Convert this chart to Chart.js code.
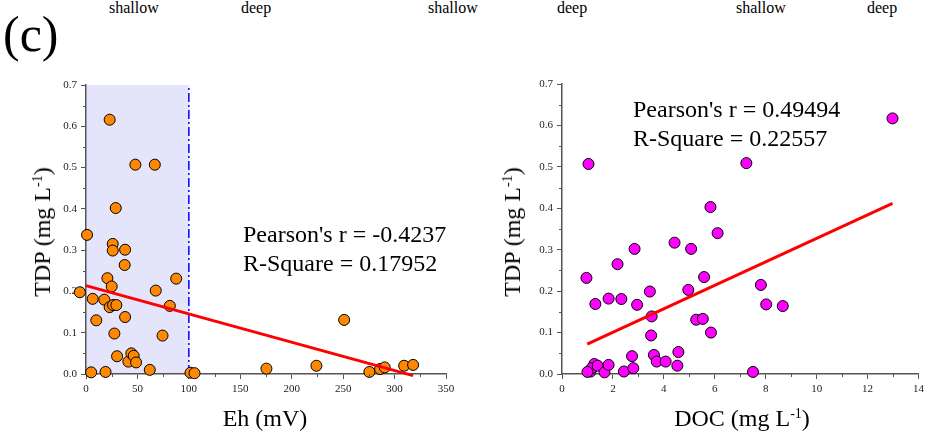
<!DOCTYPE html>
<html>
<head>
<meta charset="utf-8">
<script src="https://cdn.jsdelivr.net/npm/chart.js@4.4.1/dist/chart.umd.min.js"></script>
<style>
  html, body { margin: 0; padding: 0; background: #fff; }
  body { width: 928px; height: 433px; position: relative; overflow: hidden;
         font-family: "Liberation Serif", "Times New Roman", serif; color: #000; }
  canvas { position: absolute; top: 0; }
  .t { position: absolute; white-space: nowrap; line-height: 1; }
  .top { font-size: 16px; top: 0px; }
  .panel { font-size: 50px; left: 3px; top: 9px; }
  .ytitle { font-size: 24px; transform: translate(-50%, -50%) rotate(-90deg); }
  .xtitle { font-size: 24px; transform: translate(-50%, -50%); }
  .stats { position: absolute; font-size: 24px; line-height: 29px; white-space: nowrap; }
  .sup { font-size: 14px; position: relative; top: -8px; }
</style>
</head>
<body>
<!-- header strip left over from the panels above -->
<div class="t top" style="left:109px">shallow</div>
<div class="t top" style="left:241px">deep</div>
<div class="t top" style="left:428px">shallow</div>
<div class="t top" style="left:557px">deep</div>
<div class="t top" style="left:736px">shallow</div>
<div class="t top" style="left:867px">deep</div>
<div class="t panel">(c)</div>

<canvas id="ehChart" width="470" height="433" style="left:0"></canvas>
<canvas id="docChart" width="458" height="433" style="left:470px"></canvas>

<div class="t ytitle" style="left:42px;top:232px">TDP (mg L<span class="sup">-1</span>)</div>
<div class="t ytitle" style="left:512px;top:232px">TDP (mg L<span class="sup">-1</span>)</div>
<div class="t xtitle" style="left:265px;top:418px">Eh (mV)</div>
<div class="t xtitle" style="left:742px;top:418px">DOC (mg L<span class="sup">-1</span>)</div>

<div class="stats" style="left:243px;top:220px">Pearson's r = -0.4237<br>R-Square = 0.17952</div>
<div class="stats" style="left:633px;top:95px">Pearson's r = 0.49494<br>R-Square = 0.22557</div>

<script>
// Eh (mV) vs TDP (mg/L)
const EH_X = [1, -6, 5, 6.5, 10, 19, 17.8, 20.8, 23, 25, 26, 26, 23, 26.3, 29.5, 27.6, 28.9, 30.2,
  38, 37.6, 38, 41.2, 44.1, 46.4, 48.7, 48, 62, 66.9, 67.8, 74.4, 81.5, 87.7, 101.6, 105.5,
  175.4, 224, 251, 275.5, 285.9, 290.4, 309.3, 318];
const EH_TDP = [0.337, 0.198, 0.004, 0.182, 0.130, 0.005, 0.180, 0.232, 0.616, 0.212, 0.315, 0.299,
  0.162, 0.167, 0.167, 0.098, 0.402, 0.043, 0.301, 0.264, 0.138, 0.030, 0.050, 0.044, 0.028, 0.507,
  0.010, 0.507, 0.202, 0.093, 0.165, 0.231, 0.003, 0.002, 0.013, 0.020, 0.131, 0.005, 0.012, 0.016,
  0.020, 0.022];
const EH_FIT_X = [0, 318];
const EH_FIT_Y = [0.214, -0.004];
const EH_SHALLOW = [0, 100];   // shaded Eh band and its dash-dot limit

// DOC (mg/L) vs TDP (mg/L)
const DOC_X = [1.04, 0.96, 1.31, 1.12, 1.27, 1.17, 1.40, 1.0, 1.67, 1.83, 1.83, 2.18, 2.33, 2.43,
  2.75, 2.80, 2.85, 2.95, 3.45, 3.52, 3.50, 3.61, 3.72, 4.07, 4.42, 4.53, 4.57, 4.96, 5.07, 5.27,
  5.53, 5.58, 5.85, 5.83, 6.11, 7.24, 7.81, 8.02, 8.67, 7.50, 12.98];
const DOC_TDP = [0.507, 0.232, 0.169, 0.006, 0.024, 0.014, 0.020, 0.005, 0.004, 0.022, 0.182, 0.265,
  0.181, 0.006, 0.043, 0.014, 0.302, 0.167, 0.199, 0.139, 0.093, 0.046, 0.030, 0.030, 0.317, 0.020,
  0.053, 0.203, 0.302, 0.131, 0.133, 0.234, 0.100, 0.403, 0.340, 0.509, 0.215, 0.168, 0.164, 0.005,
  0.617];
const DOC_FIT_X = [0.99, 12.98];
const DOC_FIT_Y = [0.072, 0.412];

// axis ranges: [min, max, major step]
const TDP_AXIS = [0, 0.7, 0.1];
const EH_AXIS = [0, 350, 50];
const DOC_AXIS = [0, 14, 2];

const AXIS_COLOR = '#555';
const TICK_FONT = { family: 'Liberation Serif', size: 11 };

function toPoints(xs, ys) {
  return xs.map((x, i) => ({ x, y: ys[i] }));
}

function axis([min, max, step], fmt, boxFit) {
  return {
    type: 'linear', min, max,
    afterFit: boxFit,
    ticks: { stepSize: step, font: TICK_FONT, color: '#222', padding: 4,
             maxRotation: 0, autoSkip: false, callback: fmt },
    grid: { drawOnChartArea: false, tickLength: 5, tickColor: AXIS_COLOR, tickWidth: 1 },
    border: { display: true, color: AXIS_COLOR, width: 1.5 }
  };
}

// shaded band behind everything (only used on the Eh panel)
const bandPlugin = {
  id: 'band',
  beforeDraw(chart, args, opts) {
    if (!opts.range) return;
    const { ctx, scales: { x, y } } = chart;
    const x0 = x.getPixelForValue(opts.range[0]), x1 = x.getPixelForValue(opts.range[1]);
    ctx.save();
    ctx.fillStyle = opts.color;
    ctx.fillRect(x0, y.top, x1 - x0, y.bottom - y.top);
    ctx.restore();
  }
};

// Chart.js has no minor ticks, draw short ones half way between majors
const minorTickPlugin = {
  id: 'minorTicks',
  afterDraw(chart) {
    const { ctx, scales: { x, y } } = chart;
    ctx.save();
    ctx.strokeStyle = AXIS_COLOR;
    ctx.lineWidth = 1;
    ctx.beginPath();
    const xt = x.ticks, yt = y.ticks;
    for (let i = 0; i < xt.length - 1; i++) {
      const px = Math.round(x.getPixelForValue((xt[i].value + xt[i + 1].value) / 2)) + 0.5;
      ctx.moveTo(px, y.bottom); ctx.lineTo(px, y.bottom + 3);
    }
    for (let i = 0; i < yt.length - 1; i++) {
      const py = Math.round(y.getPixelForValue((yt[i].value + yt[i + 1].value) / 2)) + 0.5;
      ctx.moveTo(x.left, py); ctx.lineTo(x.left - 3, py);
    }
    ctx.stroke();
    ctx.restore();
  }
};

function fitLine(xs, ys) {
  return {
    type: 'line', data: toPoints(xs, ys), borderColor: '#ff0000', borderWidth: 3,
    pointRadius: 0, fill: false, clip: false
  };
}

function scatterSet(xs, ys, color) {
  return {
    type: 'scatter', data: toPoints(xs, ys), backgroundColor: color, borderColor: '#000',
    borderWidth: 1, pointRadius: 5.5, clip: false
  };
}

function buildChart(canvas, { datasets, xAxis, xFmt, yBox, padding, band }) {
  return new Chart(canvas, {
    type: 'scatter',
    data: { datasets },
    plugins: [bandPlugin, minorTickPlugin],
    options: {
      responsive: false,
      animation: false,
      layout: { padding },
      plugins: {
        legend: { display: false },
        tooltip: { enabled: false },
        band: band || {}
      },
      scales: {
        x: axis(xAxis, xFmt, s => { s.height = 59; }),
        y: axis(TDP_AXIS, v => v.toFixed(1), s => { s.width = yBox; })
      }
    }
  });
}

buildChart(document.getElementById('ehChart'), {
  datasets: [
    fitLine(EH_FIT_X, EH_FIT_Y),
    scatterSet(EH_X, EH_TDP, '#ff8800'),
    { type: 'line', data: toPoints([EH_SHALLOW[1], EH_SHALLOW[1]], [TDP_AXIS[0], TDP_AXIS[1]]),
      borderColor: '#0000ff', borderWidth: 1.5, borderDash: [9, 3, 2, 3], pointRadius: 0, fill: false }
  ],
  xAxis: EH_AXIS,
  xFmt: v => String(v),
  yBox: 86,
  padding: { top: 85, right: 24, bottom: 0, left: 0 },
  band: { range: EH_SHALLOW, color: '#e4e4fb' }
});

buildChart(document.getElementById('docChart'), {
  datasets: [
    fitLine(DOC_FIT_X, DOC_FIT_Y),
    scatterSet(DOC_X, DOC_TDP, '#ff00ff')
  ],
  xAxis: DOC_AXIS,
  xFmt: v => String(v),
  yBox: 92,
  padding: { top: 84, right: 6, bottom: 0, left: 0 }
});
</script>
</body>
</html>
